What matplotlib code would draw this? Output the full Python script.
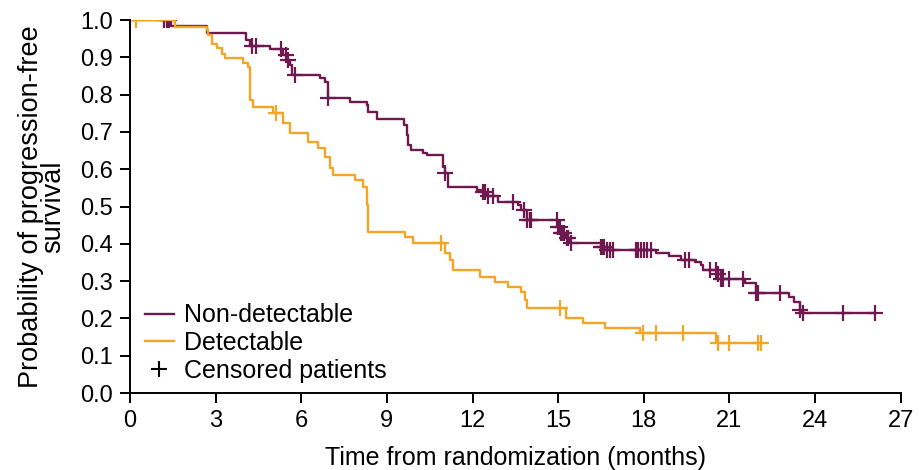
import numpy as np
import matplotlib
matplotlib.use("Agg")
from matplotlib import pyplot as plt
from matplotlib.lines import Line2D

# Non-detectable arm: step times (months) and survival after each step
nd_time = [0, 1.45, 2.68, 4.05, 4.2, 4.9, 5.37, 5.49, 5.6, 5.66, 6.65, 6.83, 6.93,
           7.7, 8.29, 8.35, 8.64, 9.6, 9.69, 9.75, 9.86, 10.27, 10.39, 10.97, 11.03,
           11.15, 12.14, 12.31, 12.5, 12.9, 13.6, 13.7, 13.9, 15.0, 15.1, 15.25, 15.4,
           16.5, 16.7, 18.44, 18.9, 19.32, 19.78, 20.02, 20.08, 20.6, 20.72, 21.53,
           21.94, 23.1, 23.28, 23.46, 23.52, 26.1]
nd_surv = [1.0, 0.985, 0.966, 0.946, 0.93, 0.921, 0.906, 0.893, 0.879, 0.853, 0.844,
           0.835, 0.79, 0.781, 0.772, 0.754, 0.734, 0.718, 0.692, 0.665, 0.651, 0.643,
           0.638, 0.607, 0.589, 0.553, 0.544, 0.54, 0.527, 0.512, 0.504, 0.49, 0.464,
           0.446, 0.428, 0.415, 0.401, 0.392, 0.383, 0.375, 0.366, 0.357, 0.352, 0.343,
           0.33, 0.318, 0.307, 0.294, 0.267, 0.258, 0.245, 0.223, 0.214, 0.214]
nd_censor = [1.2, 1.3, 1.35, 4.26, 4.43, 5.3, 5.45, 5.55, 5.78, 6.95, 11.03, 12.37,
             12.45, 12.55, 12.72, 13.42, 13.8, 13.9, 14.0, 14.06, 14.95, 15.0, 15.05,
             15.1, 15.15, 15.2, 15.3, 15.35, 15.45, 16.5, 16.55, 16.6, 16.7, 16.8,
             16.92, 17.74, 17.8, 17.9, 18.0, 18.1, 18.26, 19.43, 19.6, 20.31, 20.54,
             20.6, 20.72, 20.77, 21.0, 21.47, 21.94, 22.0, 22.76, 23.46, 23.58, 24.97,
             26.1]

# Detectable arm
d_time = [0, 1.58, 2.68, 2.74, 2.86, 3.03, 3.21, 3.33, 3.97, 4.14, 4.2, 4.32, 5.0,
          5.37, 5.6, 6.24, 6.59, 6.83, 7.0, 7.12, 7.88, 8.17, 8.29, 8.34, 9.63, 9.92,
          11.03, 11.2, 11.32, 12.25, 12.78, 13.25, 13.71, 13.85, 13.9, 15.29, 15.87,
          16.63, 17.86, 20.54, 22.11]
d_surv = [1.0, 0.982, 0.973, 0.96, 0.937, 0.925, 0.91, 0.897, 0.884, 0.875, 0.786,
          0.768, 0.75, 0.723, 0.696, 0.674, 0.656, 0.634, 0.602, 0.584, 0.571, 0.553,
          0.504, 0.432, 0.419, 0.401, 0.375, 0.357, 0.33, 0.312, 0.298, 0.285, 0.272,
          0.25, 0.227, 0.2, 0.187, 0.173, 0.16, 0.135, 0.135]
d_censor = [0.2, 5.13, 10.91, 15.06, 17.97, 18.44, 19.37, 20.6, 21.0, 22.0, 22.11]

x_ticks = [0, 3, 6, 9, 12, 15, 18, 21, 24, 27]
y_ticks = [0.0, 0.1, 0.2, 0.3, 0.4, 0.5, 0.6, 0.7, 0.8, 0.9, 1.0]

purple = '#6e1850'
orange = '#f5a524'

plt.rcParams['font.family'] = ['Liberation Sans', 'DejaVu Sans']


def surv_at(times, surv, t):
    # step function lookup (right-continuous)
    idx = np.searchsorted(times, t, side='right') - 1
    return np.array(surv)[idx]


fig = plt.figure(figsize=(9.19, 4.70), dpi=100)
ax = fig.add_axes([0.1415, 0.1638, 0.8385, 0.7936])

for times, surv, cens, color in [(nd_time, nd_surv, nd_censor, purple),
                                 (d_time, d_surv, d_censor, orange)]:
    ax.plot(times, surv, drawstyle='steps-post', color=color, lw=1.7)
    ax.plot(cens, surv_at(times, surv, np.array(cens)), linestyle='none',
            marker='+', markersize=12, markeredgewidth=1.6, color=color)

ax.set_xlim(0, 27)
ax.set_ylim(0, 1.0)
ax.set_xticks(x_ticks)
ax.set_yticks(y_ticks)
ax.set_yticklabels([f'{v:.1f}' for v in y_ticks])
ax.tick_params(direction='out', length=7, width=1.4, labelsize=17, pad=5)
for side in ['top', 'right']:
    ax.spines[side].set_visible(False)
for side in ['left', 'bottom']:
    ax.spines[side].set_linewidth(1.4)

ax.set_xlabel('Time from randomization (months)', fontsize=18, labelpad=10)
ax.set_ylabel('Probability of progression-free\nsurvival', fontsize=19.5,
              linespacing=0.85, labelpad=10)

handles = [Line2D([0], [0], color=purple, lw=1.7),
           Line2D([0], [0], color=orange, lw=1.7),
           Line2D([0], [0], color='black', lw=0, marker='+', markersize=11,
                  markeredgewidth=1.5)]
ax.legend(handles, ['Non-detectable', 'Detectable', 'Censored patients'],
          loc='lower left', bbox_to_anchor=(0.0, -0.013), frameon=False,
          fontsize=18, handlelength=1.15, handletextpad=0.4, labelspacing=0.15,
          borderaxespad=0.2)

plt.savefig('out.png', dpi=100)
plt.close(fig)
